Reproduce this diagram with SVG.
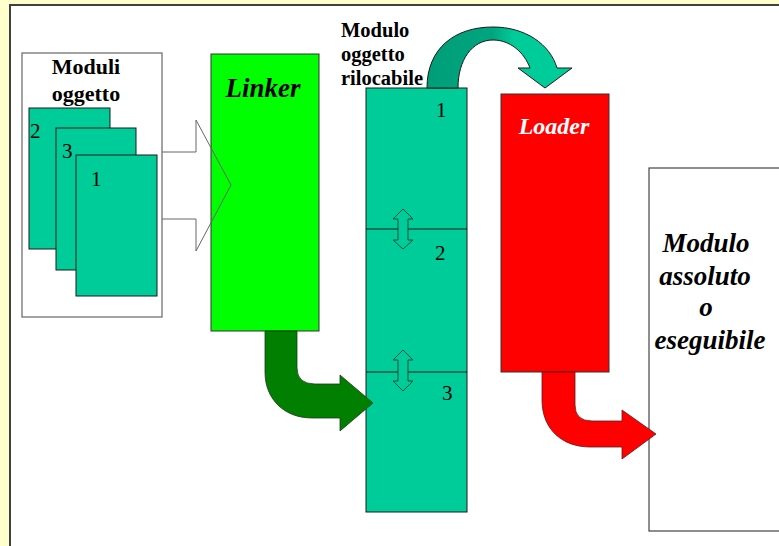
<svg xmlns="http://www.w3.org/2000/svg" width="779" height="546" viewBox="0 0 779 546">
  <style>
    text { font-family: "Liberation Serif", Tinos, "DejaVu Serif", "Times New Roman", serif; }
    .lbl { font-weight: bold; fill: #000; }
    .title { font-weight: bold; font-style: italic; }
    .num { font-size: 21px; fill: #000; }
    .teal { fill: #00CC99; stroke: #1a1a1a; stroke-width: 1; }
    .dbl { fill: #00CC99; stroke: #0b4f3e; stroke-width: 1; }
  </style>
  <defs>
    <linearGradient id="arcShade" x1="0" y1="0" x2="1" y2="0">
      <stop offset="0" stop-color="#009E78"/>
      <stop offset="0.45" stop-color="#00A57F"/>
      <stop offset="0.6" stop-color="#00CC99"/>
      <stop offset="1" stop-color="#00CC99"/>
    </linearGradient>
  </defs>

  <!-- page background and framed panel -->
  <rect x="0" y="0" width="779" height="546" fill="#FFFFCC"/>
  <rect x="10" y="5" width="780" height="560" fill="#FFFFFF" stroke="#404040" stroke-width="2"/>

  <!-- object modules container -->
  <g id="moduli-oggetto" font-family="Liberation Serif, Tinos, DejaVu Serif, serif">
    <rect x="22" y="53" width="140" height="264" fill="#FFFFFF" stroke="#666" stroke-width="1.2"/>
    <text class="lbl" x="86" y="74" font-size="22" text-anchor="middle">Moduli</text>
    <text class="lbl" x="86" y="101" font-size="22" text-anchor="middle">oggetto</text>
    <rect class="teal" x="29" y="108" width="81" height="141"/>
    <text class="num" x="30" y="138">2</text>
    <rect class="teal" x="56" y="128" width="80" height="142"/>
    <text class="num" x="62" y="158">3</text>
    <rect class="teal" x="76" y="155" width="81" height="141"/>
    <text class="num" x="91" y="186">1</text>
  </g>

  <!-- linker -->
  <g id="linker">
    <rect x="211" y="54" width="108" height="277" fill="#00FF00" stroke="#333" stroke-width="1"/>
    <text class="title" x="263" y="97" font-size="27" text-anchor="middle" fill="#000" font-family="Liberation Serif, Tinos, DejaVu Serif, serif">Linker</text>
  </g>

  <!-- relocatable object module stack -->
  <g id="modulo-rilocabile" font-family="Liberation Serif, Tinos, DejaVu Serif, serif">
    <text class="lbl" x="341" y="37" font-size="20.5">Modulo</text>
    <text class="lbl" x="341" y="61" font-size="20.5">oggetto</text>
    <text class="lbl" x="341" y="85" font-size="20.5">rilocabile</text>
    <rect class="teal" x="366" y="88" width="101" height="424"/>
    <line x1="366" y1="229" x2="467" y2="229" stroke="#1a1a1a" stroke-width="1"/>
    <line x1="366" y1="372" x2="467" y2="372" stroke="#1a1a1a" stroke-width="1"/>
    <text class="num" x="436" y="117" font-size="20">1</text>
    <text class="num" x="435" y="260" font-size="20">2</text>
    <text class="num" x="442" y="400" font-size="20">3</text>
    <path class="dbl" d="M403,209 L413,219 L408,219 L408,240 L413,240 L403,249 L393,240 L398,240 L398,219 L393,219 Z"/>
    <path class="dbl" d="M403,350 L413,360 L408,360 L408,381 L413,381 L403,391 L393,381 L398,381 L398,360 L393,360 Z"/>
  </g>

  <!-- loader -->
  <g id="loader">
    <rect x="501" y="94" width="108" height="278" fill="#FF0000" stroke="#333" stroke-width="1"/>
    <text class="title" x="554" y="134" font-size="24" text-anchor="middle" fill="#FFFFFF" font-family="Liberation Serif, Tinos, DejaVu Serif, serif">Loader</text>
  </g>

  <!-- absolute / executable module -->
  <g id="modulo-assoluto">
    <rect x="649" y="168" width="140" height="363" fill="#FFFFFF" stroke="#444" stroke-width="1.2"/>
    <g class="title" font-size="27" fill="#000" text-anchor="middle" font-family="Liberation Serif, Tinos, DejaVu Serif, serif">
      <text x="706" y="252">Modulo</text>
      <text x="705" y="285">assoluto</text>
      <text x="706" y="316">o</text>
      <text x="710" y="349">eseguibile</text>
    </g>
  </g>

  <!-- connectors -->
  <g id="connectors">
    <!-- hollow block arrow into the linker -->
    <path d="M162,152 L196,152 L196,120 L231,185 L196,251 L196,219 L162,219" fill="none" stroke="#666" stroke-width="1"/>
    <!-- bent arrow linker to stack -->
    <path d="M265,331 L297,331 L297,368 Q297,384 315,384 L340,384 L340,375 L373,403 L340,431 L340,418 L312,418 C285,418 265,400 265,372 Z" fill="#007F00" stroke="#1a3a1a" stroke-width="0.8"/>
    <!-- curved arrow stack to loader -->
    <path d="M427,88 C427,48 455,27 493,27 C525,27 550,44 557,68 L572,68 L545,88 L518,68 L530,68 C524,52 510,40 493,40 C472,40 458,60 458,88 Z" fill="url(#arcShade)" stroke="#1a1a1a" stroke-width="1"/>
    <!-- bent arrow loader to executable -->
    <path d="M542,372 L575,372 L575,405 Q575,421 592,421 L622,421 L622,410 L656,434 L622,459 L622,447 L590,447 C563,447 542,430 542,400 Z" fill="#FF0000" stroke="#5a1a1a" stroke-width="0.8"/>
  </g>
</svg>
